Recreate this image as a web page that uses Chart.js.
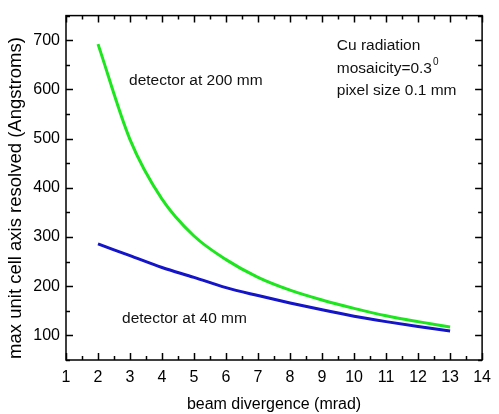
<!DOCTYPE html>
<html>
<head>
<meta charset="utf-8">
<script src="https://cdn.jsdelivr.net/npm/chart.js@4.4.1/dist/chart.umd.min.js"></script>
<style>
  body { margin: 0; background: #fff; }
  #wrap { width: 499px; height: 414px; }
</style>
</head>
<body>
<div id="wrap"><canvas id="myChart" width="499" height="414"></canvas></div>
<script>
// beam divergence (mrad)
const divergencia = [2, 3, 4, 5, 6, 7, 8, 9, 10, 11, 12, 13];
// max unit cell axis, detector at 200 mm
const det200 = [692, 498, 377, 302, 254, 218, 192, 172, 155, 140, 128, 117];
// max unit cell axis, detector at 40 mm
const det40 = [286, 262, 238, 218, 197, 181, 166, 152, 139, 128, 118, 109];

const xTicks = [1, 2, 3, 4, 5, 6, 7, 8, 9, 10, 11, 12, 13, 14];
const yTicks = [100, 200, 300, 400, 500, 600, 700];

const fuente = "'Liberation Sans', Arial, sans-serif";

// etiquetas dentro del grafico (en coordenadas de datos)
const notas = [
  { text: 'detector at 200 mm', x: 2.97, y: 618 },
  { text: 'detector at 40 mm', x: 2.75, y: 134 },
  { text: 'Cu radiation', x: 9.46, y: 689 },
  { text: 'mosaicity=0.3', sup: '0', x: 9.46, y: 643 },
  { text: 'pixel size 0.1 mm', x: 9.46, y: 598 }
];

const marco = {
  id: 'marco',
  afterDraw(chart) {
    const ctx = chart.ctx;
    const a = chart.chartArea;
    const sx = chart.scales.x;
    const sy = chart.scales.y;
    ctx.save();
    ctx.strokeStyle = '#000';
    ctx.lineWidth = 1.5;
    ctx.strokeRect(a.left, a.top, a.right - a.left, a.bottom - a.top);
    ctx.beginPath();
    for (let v = 1; v <= 14; v += 0.5) {
      const px = Math.round(sx.getPixelForValue(v)) + 0.5;
      const len = (v % 1 === 0) ? 7 : 4;
      ctx.moveTo(px, a.bottom); ctx.lineTo(px, a.bottom - len);
      ctx.moveTo(px, a.top); ctx.lineTo(px, a.top + len);
    }
    for (let v = 50; v <= 750; v += 50) {
      const py = Math.round(sy.getPixelForValue(v)) + 0.5;
      const len = (v % 100 === 0) ? 7 : 4;
      ctx.moveTo(a.left, py); ctx.lineTo(a.left + len, py);
      ctx.moveTo(a.right, py); ctx.lineTo(a.right - len, py);
    }
    ctx.stroke();

    // notas
    ctx.fillStyle = '#111';
    ctx.textBaseline = 'middle';
    ctx.textAlign = 'left';
    notas.forEach(n => {
      const px = sx.getPixelForValue(n.x);
      const py = sy.getPixelForValue(n.y);
      ctx.font = '15.5px ' + fuente;
      ctx.fillText(n.text, px, py);
      if (n.sup) {
        const w = ctx.measureText(n.text).width;
        ctx.font = '10px ' + fuente;
        ctx.fillText(n.sup, px + w + 1, py - 6);
      }
    });

    // titulo eje y
    ctx.font = '18.5px ' + fuente;
    ctx.textAlign = 'center';
    ctx.fillStyle = '#000';
    ctx.translate(16, 198);
    ctx.rotate(-Math.PI / 2);
    ctx.fillText('max unit cell axis resolved (Angstroms)', 0, 0);
    ctx.restore();
  }
};

new Chart(document.getElementById('myChart'), {
  type: 'line',
  data: {
    datasets: [{
      label: 'detector at 200 mm',
      data: divergencia.map((d, i) => ({ x: d, y: det200[i] })),
      borderColor: '#1ee61e',
      borderWidth: 3,
      pointRadius: 0,
      cubicInterpolationMode: 'monotone',
      fill: false
    },
    {
      label: 'detector at 40 mm',
      data: divergencia.map((d, i) => ({ x: d, y: det40[i] })),
      borderColor: '#1414c8',
      borderWidth: 3,
      pointRadius: 0,
      cubicInterpolationMode: 'monotone',
      fill: false
    }]
  },
  options: {
    responsive: false,
    animation: false,
    layout: { padding: { top: 15, right: 10, left: 0, bottom: 0 } },
    plugins: {
      legend: { display: false },
      tooltip: { enabled: false }
    },
    scales: {
      x: {
        type: 'linear',
        min: 1,
        max: 14,
        afterBuildTicks: (s) => { s.ticks = xTicks.map(v => ({ value: v })); },
        afterFit: (s) => { s.height = 54; },
        grid: { display: false, drawTicks: false },
        border: { display: false },
        ticks: { color: '#000', font: { size: 16, family: fuente }, padding: 8, maxRotation: 0 },
        title: {
          display: true,
          text: 'beam divergence (mrad)',
          color: '#000',
          font: { size: 16, family: fuente },
          padding: { top: 0, bottom: 0 }
        }
      },
      y: {
        type: 'linear',
        min: 50,
        max: 750,
        afterBuildTicks: (s) => { s.ticks = yTicks.map(v => ({ value: v })); },
        afterFit: (s) => { s.width = 66; },
        grid: { display: false, drawTicks: false },
        border: { display: false },
        ticks: { color: '#000', font: { size: 16, family: fuente }, padding: 6 }
      }
    }
  },
  plugins: [marco]
});
</script>
</body>
</html>
